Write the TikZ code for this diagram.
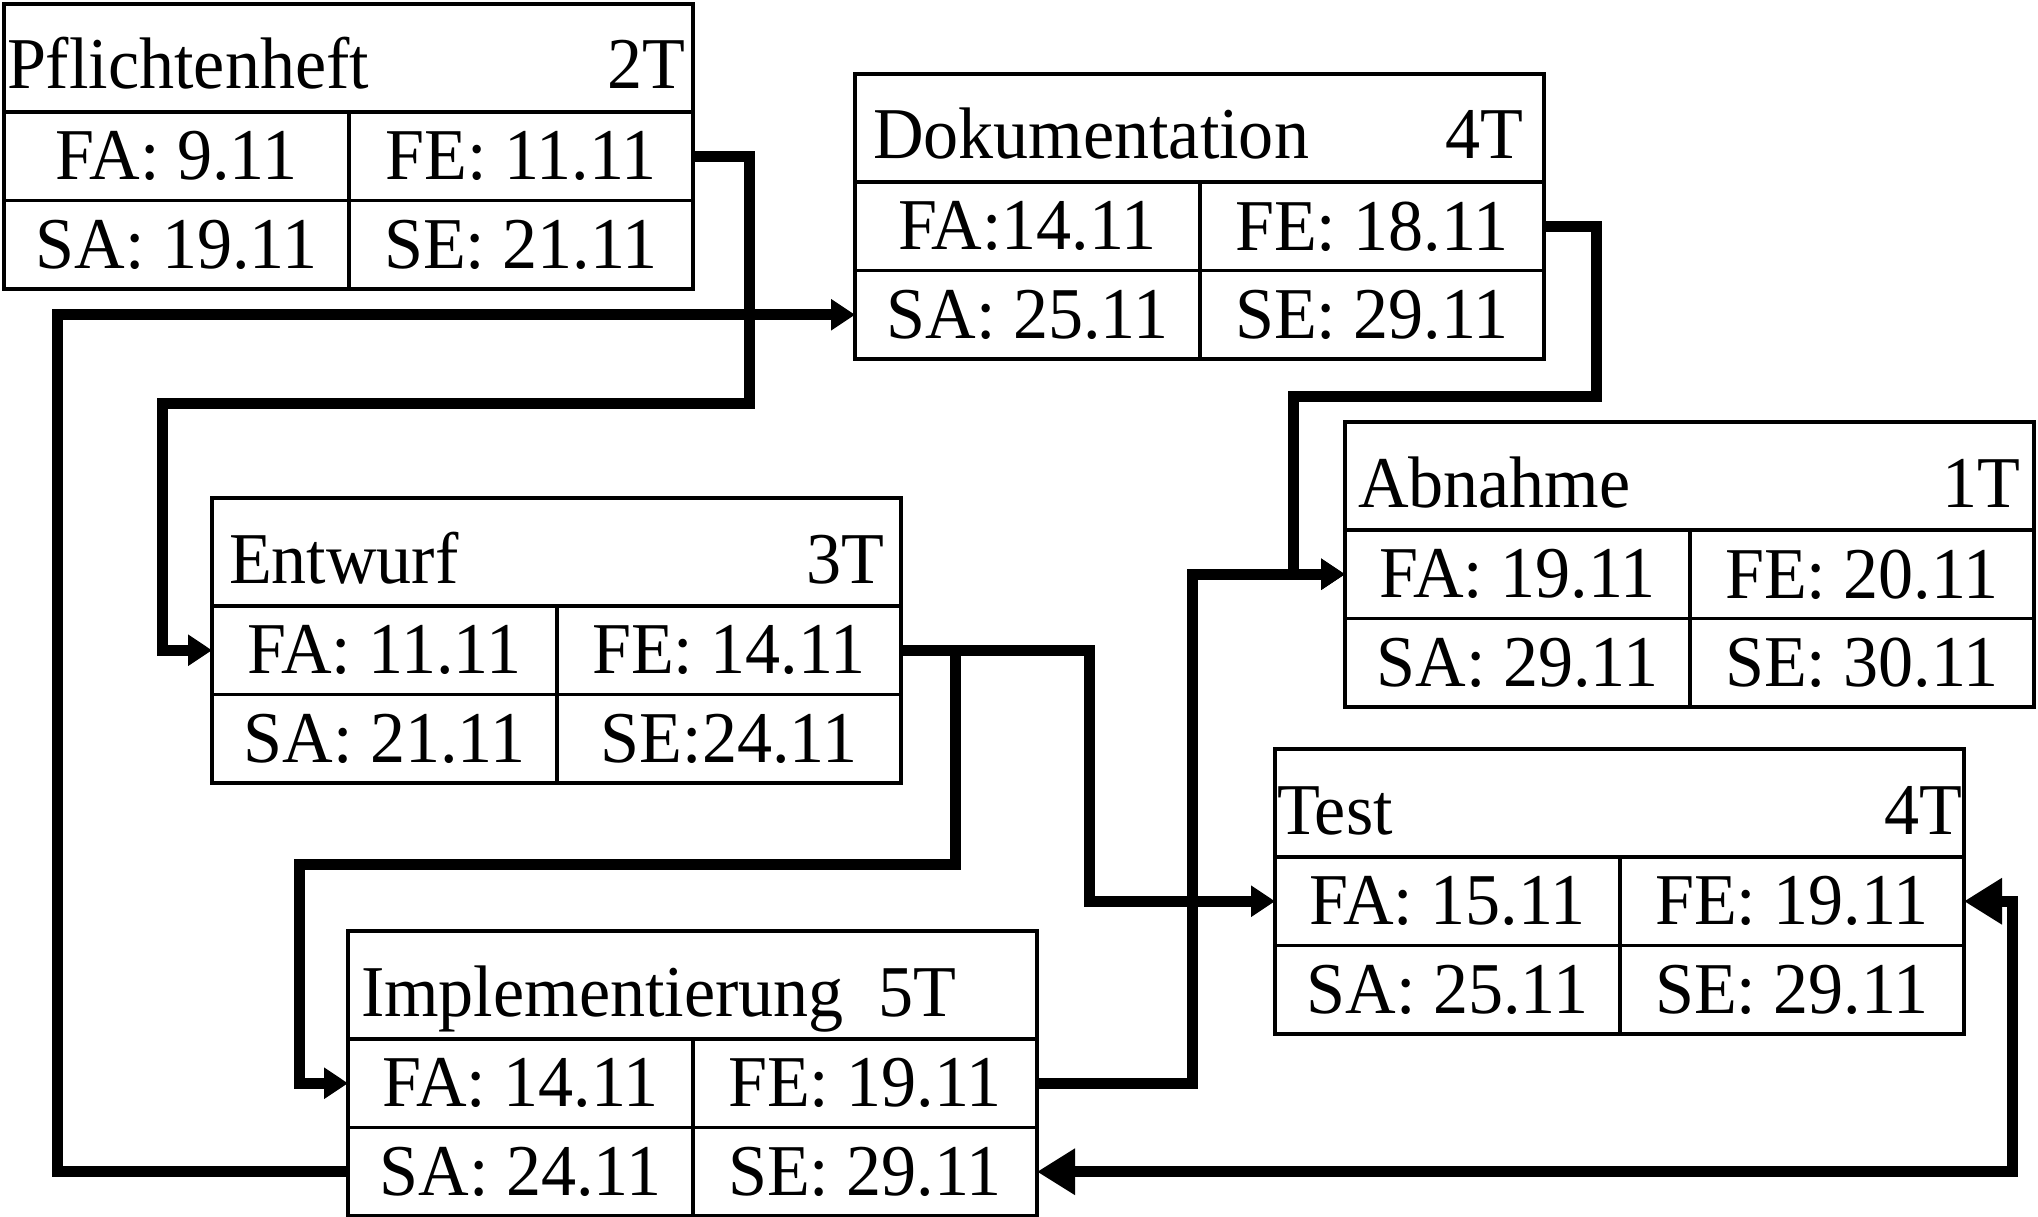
\documentclass[tikz,border=0pt]{standalone}
\usepackage{fontspec}
\setmainfont{Liberation Serif}[FakeStretch=0.96]
\usetikzlibrary{arrows.meta}
\begin{document}
\begin{tikzpicture}[x=1pt,y=-1pt,
  every node/.style={inner sep=0pt, outer sep=0pt, font=\fontsize{73pt}{80pt}\selectfont},
  head/.style={draw, line width=3.5pt, minimum width=689pt, minimum height=108pt, anchor=north west},
  cellL/.style={draw, line width=3.5pt, minimum width=345pt, minimum height=88.5pt, anchor=north west},
  cellR/.style={cellL, minimum width=344pt},
  conn/.style={line width=11pt},
  tipS/.style={-{Triangle[length=24pt,width=30pt]}},
  tipB/.style={{Triangle[length=38pt,width=44pt]}-{Triangle[length=38pt,width=44pt]}}
]
\useasboundingbox (0,0) rectangle (2038,1217);

% one activity box: heading row plus FA/FE and SA/SE cells
\newcommand\actbox[6]{%
  \node[head] (#1) at (#2) {};
  \node[cellL] (#1-fa) at (#1.south west) {#3};
  \node[cellR] (#1-fe) at (#1-fa.north east) {#4};
  \node[cellL] (#1-sa) at (#1-fa.south west) {#5};
  \node[cellR] (#1-se) at (#1-sa.north east) {#6};
}

\actbox{pf}{4,4}{FA: 9.11}{FE: 11.11}{SA: 19.11}{SE: 21.11}
\node[anchor=base west] (pf-name) at ([xshift=3pt,yshift=23pt]pf.south west) {Pflichtenheft};
\node[anchor=base east] (pf-dur) at ([xshift=-8pt,yshift=23pt]pf.south east) {2T};

\actbox{dk}{855,74}{FA:14.11}{FE: 18.11}{SA: 25.11}{SE: 29.11}
\node[anchor=base west] (dk-name) at ([xshift=18pt,yshift=23pt]dk.south west) {Dokumentation};
\node[anchor=base east] (dk-dur) at ([xshift=-21pt,yshift=23pt]dk.south east) {4T};

\actbox{ab}{1345,422}{FA: 19.11}{FE: 20.11}{SA: 29.11}{SE: 30.11}
\node[anchor=base west] (ab-name) at ([xshift=13pt,yshift=23pt]ab.south west) {Abnahme};
\node[anchor=base east] (ab-dur) at ([xshift=-14pt,yshift=23pt]ab.south east) {1T};

\actbox{en}{212,498}{FA: 11.11}{FE: 14.11}{SA: 21.11}{SE:24.11}
\node[anchor=base west] (en-name) at ([xshift=17pt,yshift=23pt]en.south west) {Entwurf};
\node[anchor=base east] (en-dur) at ([xshift=-17pt,yshift=23pt]en.south east) {3T};

\actbox{te}{1275,749}{FA: 15.11}{FE: 19.11}{SA: 25.11}{SE: 29.11}
\node[anchor=base west] (te-name) at ([xshift=2pt,yshift=23pt]te.south west) {Test};
\node[anchor=base east] (te-dur) at ([xshift=-2pt,yshift=23pt]te.south east) {4T};

\actbox{im}{348,931}{FA: 14.11}{FE: 19.11}{SA: 24.11}{SE: 29.11}
\node[anchor=base west] (im-name) at ([xshift=13pt,yshift=23pt]im.south west) {Implementierung\ \ 5T};

% dependencies
\draw[conn,tipS] (pf-fe.east) -| (749,403) -- (162,403) |- (en-fa.west);
\draw[conn,tipS] (im-sa.west) -| (57,0 |- dk-sa.west) -- (dk-sa.west);
\draw[conn,tipS] (dk-fe.east) -| (1596,396) -- (1293,396) |- (ab-fa.west);
\draw[conn,tipS] (en-fe.east) -| (1089,0 |- te-fa.west) -- (te-fa.west);
\coordinate (en-split) at (955,0 |- en-fe.east);
\draw[conn,tipS] (en-split) -- (955,864) -| (299,0 |- im-fa.west) -- (im-fa.west);
\draw[conn,tipS] (im-fe.east) -| (1192,0 |- ab-fa.west) -- (ab-fa.west);
\draw[conn,tipB] (te-fe.east) -- (2012,0 |- te-fe.east) |- (im-se.east);
\end{tikzpicture}
\end{document}
